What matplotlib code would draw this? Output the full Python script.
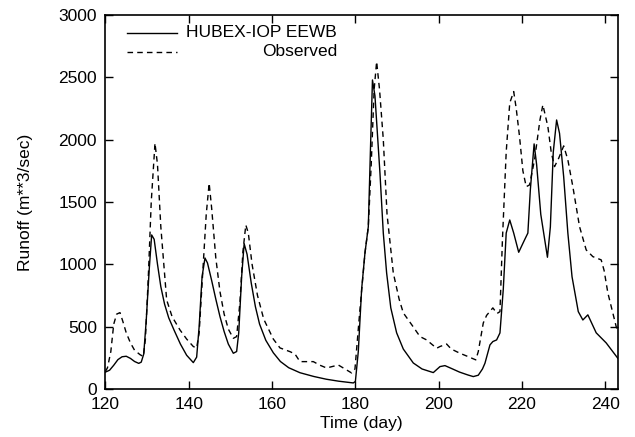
import matplotlib
matplotlib.use("Agg")
import matplotlib.pyplot as plt

# Simulated runoff (HUBEX-IOP EEWB)
sim_day = [120, 121, 122, 123, 124, 125, 126, 127, 128, 128.6, 129.2, 129.8, 130.5, 131.1,
           131.7, 132.5, 133.3, 134.2, 135.2, 136.5, 138, 139.5, 141.1, 141.9, 142.5, 143.2,
           143.9, 144.5, 145.5, 146.5, 147.5, 148.5, 149.5, 150.7, 151.5, 152, 152.7, 153.3,
           154, 155, 156, 157, 158.5, 160.3, 162, 164, 166.7, 170, 173, 176, 179.5, 180,
           180.7, 181.5, 182.3, 183.1, 183.6, 184.1, 184.7, 185.9, 186.7, 187.5, 188.5, 189.9,
           191.5, 193.9, 196, 198.7, 200.3, 201.5, 203, 205, 207, 208.3, 209.5, 210.5, 211.1,
           212.3, 213, 213.9, 214.7, 215.5, 216.2, 217.05, 218, 219.2, 220.6, 221.4, 222,
           222.9, 223.5, 224.5, 226.1, 226.8, 227.5, 228.3, 229, 230, 231, 232, 233.5, 234.6,
           235.8, 237.8, 240.2, 242.9, 243]
sim_val = [135, 150, 190, 235, 258, 262, 245, 220, 205, 215, 280, 550, 950, 1235,
           1200, 1000, 820, 680, 570, 470, 360, 270, 211, 255, 500, 900,
           1050, 1010, 870, 720, 580, 460, 360, 286, 300, 450, 900, 1165,
           1080, 850, 660, 520, 390, 290, 220, 170, 130, 100, 78, 62, 48, 60,
           300, 800, 1090, 1300, 1900, 2478, 2350, 1730, 1250, 930, 650, 450,
           320, 208, 160, 131, 179, 187, 165, 135, 112, 99, 110, 160, 206,
           353, 380, 393, 449, 800, 1250, 1355, 1250, 1096, 1195, 1250, 1600,
           1965, 1800, 1400, 1056, 1300, 1900, 2157, 2050, 1700, 1250, 900, 620, 553,
           594, 450, 369, 250, 245]

# Observed runoff
obs_day = [120, 120.5, 121.3, 122, 122.7, 123.5, 124.2, 125, 126, 127, 128.3, 129.1, 129.6,
           130.3, 131, 131.9, 132.5, 133.3, 134.7, 136, 137.9, 139.5, 141.1, 141.9, 142.5,
           143.3, 144.2, 144.9, 145.5, 146.5, 147.5, 148.5, 149.5, 150.7, 151.5, 152.3, 153,
           153.7, 154.3, 155.2, 156.5, 158, 160.3, 161.9, 164.3, 165.5, 166.7, 169.9, 171.5,
           173.1, 175.9, 177.9, 179.1, 179.9, 181, 182.3, 183.1, 183.8, 184.5, 185.1, 185.8,
           186.7, 187.6, 189.1, 190.5, 191.5, 193.9, 195.5, 197.1, 199.5, 200.3, 201.9, 203,
           205.1, 207, 208.9, 209.5, 210.7, 211.5, 213, 214, 214.7, 215.3, 216.2, 217.05, 218,
           218.6, 219.4, 220.2, 221, 221.8, 223, 224.3, 225, 226.2, 227, 227.8, 228.8, 230,
           231, 232.2, 233.8, 235.4, 237, 239, 239.7, 240.6, 242.6, 243]
obs_val = [140, 170, 300, 520, 600, 612, 540, 450, 370, 310, 275, 260, 400,
           900, 1500, 1970, 1800, 1300, 714, 580, 473, 400, 340, 329, 450,
           900, 1400, 1650, 1450, 1050, 780, 600, 480, 406, 420, 700, 1100,
           1315, 1250, 1000, 750, 560, 400, 329, 299, 280, 219, 219, 190,
           168, 192, 152, 128, 160, 600, 1090, 1300, 1800, 2400, 2625, 2400,
           2000, 1400, 930, 720, 610, 497, 420, 393, 326, 340, 360, 320,
           286, 260, 233, 300, 529, 590, 650, 605, 620, 1200, 1900, 2293, 2385,
           2250, 2024, 1750, 1622, 1636, 1837, 2157, 2278, 2104, 1900, 1783, 1850, 1949,
           1837, 1622, 1302, 1115, 1061, 1035, 950, 770, 500, 460]

x_ticks = [120, 140, 160, 180, 200, 220, 240]
y_ticks = [0, 500, 1000, 1500, 2000, 2500, 3000]

plt.rcParams['font.family'] = ['Liberation Sans', 'DejaVu Sans']
plt.rcParams['font.size'] = 12.5

fig = plt.figure(figsize=(6.35, 4.37), dpi=100)
ax = fig.add_axes([0.166, 0.110, 0.807, 0.856])

ax.plot(sim_day, sim_val, color='black', lw=1.0)
ax.plot(obs_day, obs_val, color='black', lw=1.0, dashes=(4, 3))

ax.set_xlim(120, 243)
ax.set_ylim(0, 3000)
ax.set_xticks(x_ticks)
ax.set_yticks(y_ticks)
ax.tick_params(direction='in', length=6, width=1, top=True, right=True, pad=6)
for s in ax.spines.values():
    s.set_linewidth(1.2)

ax.set_xlabel('Time (day)', labelpad=3)
ax.set_ylabel('Runoff (m**3/sec)', labelpad=18)

# gnuplot-style key: sample on the left, label right-aligned
tr = ax.transAxes
ax.plot([0.043, 0.140], [0.952, 0.952], color='black', lw=1.0, transform=tr)
ax.plot([0.043, 0.140], [0.901, 0.901], color='black', lw=1.0, dashes=(4, 3), transform=tr)
ax.text(0.452, 0.952, 'HUBEX-IOP EEWB', transform=tr, ha='right', va='center')
ax.text(0.452, 0.901, 'Observed', transform=tr, ha='right', va='center')

fig.savefig('out.png', dpi=100)
